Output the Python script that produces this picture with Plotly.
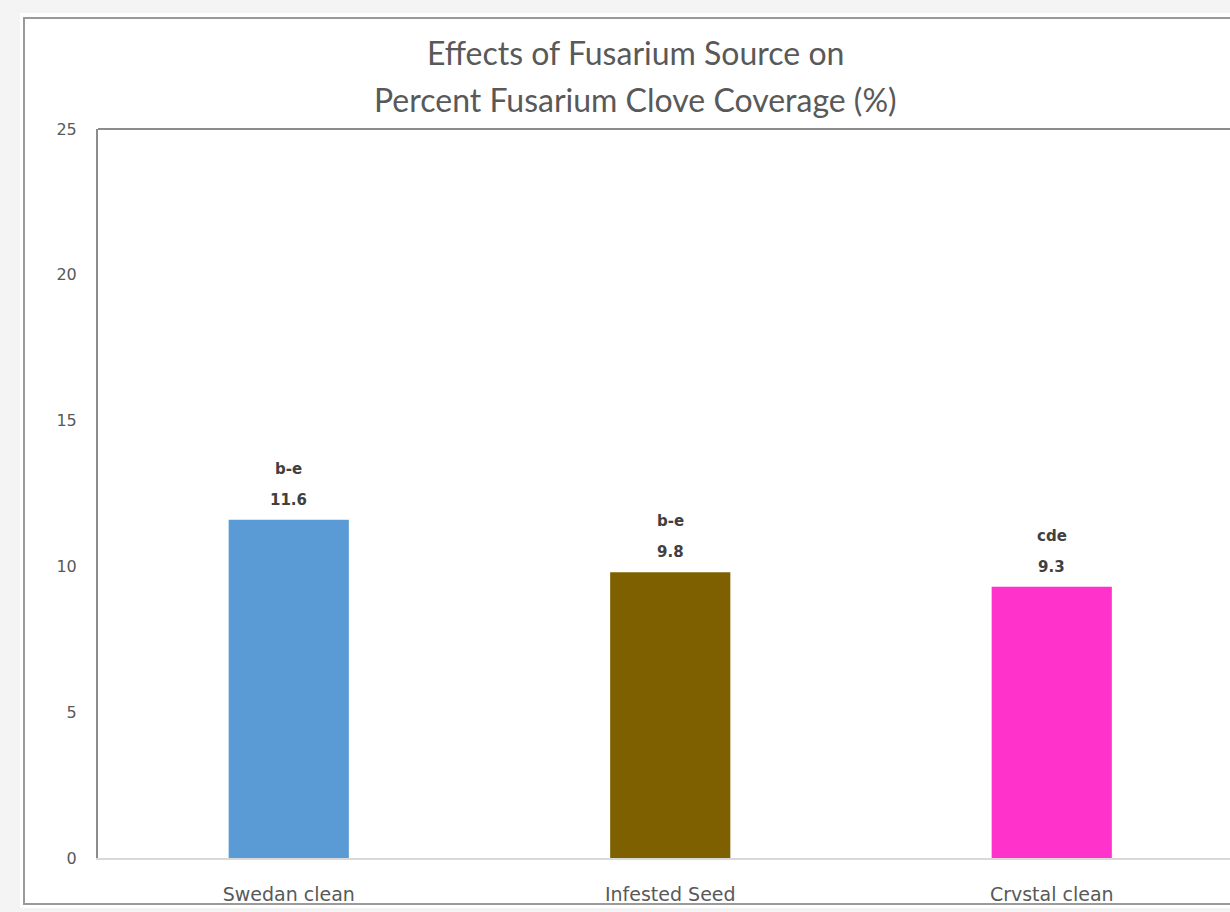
import plotly.graph_objects as go

# Fusarium source treatments and mean clove coverage (%)
categories = ["Swedan clean", "Infested Seed", "Crvstal clean"]
coverage = [11.6, 9.8, 9.3]
letters = ["b-e", "b-e", "cde"]
bar_colors = ["#5B9BD5", "#7F6000", "#FF33CC"]
y_ticks = [0, 5, 10, 15, 20, 25]

title_lines = ["Effects of Fusarium Source on", "Percent Fusarium Clove Coverage (%)"]

W, H = 1230, 912
L, T, B = 98, 129, 54
plot_w = W - L
plot_h = H - T - B


def px_x(x):
    return (x - L) / plot_w


def px_y(y):
    return (H - B - y) / plot_h


fig = go.Figure(
    go.Bar(
        x=categories,
        y=coverage,
        marker=dict(color=bar_colors, line=dict(width=0)),
        width=0.315,
        hoverinfo="skip",
    )
)

label_font = dict(family="DejaVu Sans", size=15, color="#404040", weight="bold")
annotations = []
for cat, val, let in zip(categories, coverage, letters):
    annotations.append(dict(x=cat, y=val, text=f"{val:.1f}", showarrow=False,
                            yanchor="middle", yshift=20, font=label_font))
    annotations.append(dict(x=cat, y=val, text=let, showarrow=False,
                            yanchor="middle", yshift=51, font=label_font))

title_font = dict(family="Lato", size=32, color="#595959")
for line, ypix in zip(title_lines, [53, 100]):
    annotations.append(dict(x=px_x(635), y=px_y(ypix), xref="paper", yref="paper",
                            text=line, showarrow=False, xanchor="center",
                            yanchor="middle", font=title_font))

shapes = [
    # white chart card
    dict(type="rect", xref="paper", yref="paper", layer="below",
         x0=px_x(20), x1=px_x(1300), y0=px_y(908), y1=px_y(13),
         fillcolor="white", line=dict(width=0)),
    # card border
    dict(type="rect", xref="paper", yref="paper", layer="below",
         x0=px_x(24), x1=px_x(1300), y0=px_y(904), y1=px_y(18),
         fillcolor="rgba(0,0,0,0)", line=dict(color="#9a9a9a", width=2)),
    # top edge of plot frame
    dict(type="line", xref="paper", yref="paper", layer="above",
         x0=0, x1=1.05, y0=1, y1=1, line=dict(color="#8c8c8c", width=2)),
]

fig.update_layout(
    width=W, height=H,
    margin=dict(l=L, r=0, t=T, b=B, pad=0),
    paper_bgcolor="#f4f4f4",
    plot_bgcolor="white",
    showlegend=False,
    bargap=0.685,
    annotations=annotations,
    shapes=shapes,
    xaxis=dict(
        range=[-0.5, -0.5 + plot_w / 381.5],
        showline=True, linecolor="#d9d9d9", linewidth=1.5,
        showgrid=False, zeroline=False, ticks="",
        tickfont=dict(family="DejaVu Sans", size=19, color="#595959"),
        ticklabelstandoff=18,
    ),
    yaxis=dict(
        range=[0, 25], tickvals=y_ticks,
        showline=True, linecolor="#8c8c8c", linewidth=2,
        showgrid=False, zeroline=False, ticks="",
        tickfont=dict(family="DejaVu Sans", size=16, color="#595959"),
        ticklabelstandoff=16,
    ),
)

fig.write_html("out.html")
